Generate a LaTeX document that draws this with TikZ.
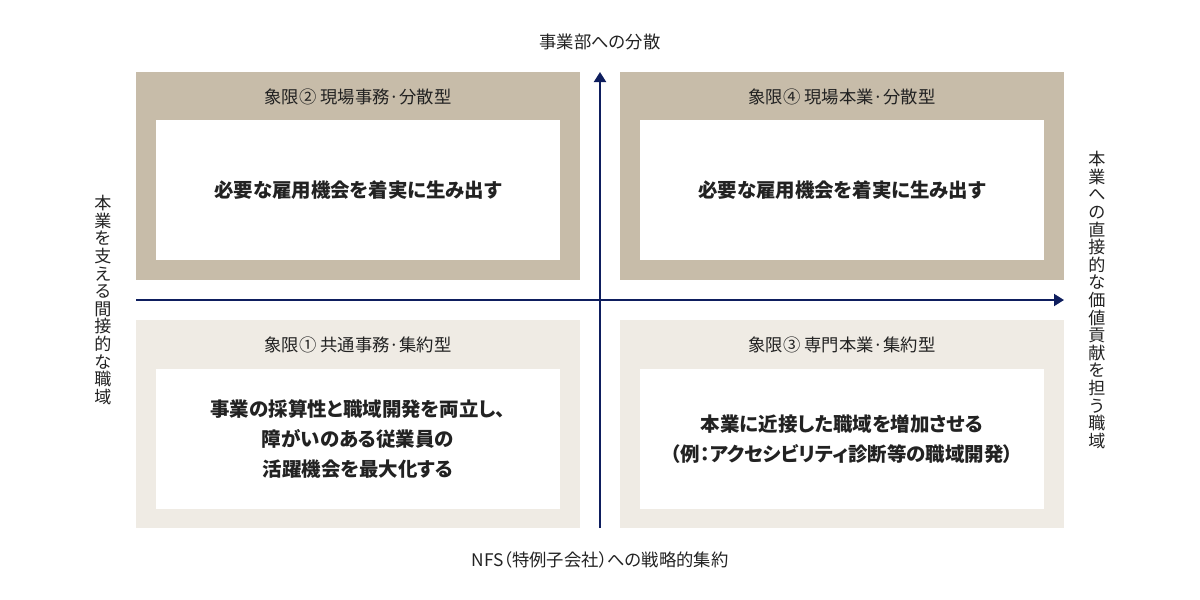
\documentclass[tikz,border=0pt]{standalone}
\usepackage{fontspec}
\setmainfont{Noto Sans CJK JP}
\newfontfamily\cjk[RawFeature=+palt]{Noto Sans CJK JP}
\newfontfamily\cjkv{Noto Sans CJK JP}
\usetikzlibrary{arrows.meta}
\definecolor{tandark}{HTML}{C7BCA9}
\definecolor{tanlight}{HTML}{EFEBE4}
\definecolor{axisblue}{HTML}{0E1E5E}
\definecolor{txt}{HTML}{222222}
\tikzset{
  outerbox/.style={minimum width=333pt, minimum height=156pt, inner sep=0pt, outer sep=0pt},
  innerbox/.style={fill=white, minimum width=303pt, minimum height=105pt, inner sep=0pt, outer sep=0pt,
    align=center, text=txt, font={\cjk\bfseries\fontsize{14.6}{22.5}\selectfont}},
  titletext/.style={text=txt, font={\cjk\fontsize{13}{15}\selectfont}, inner sep=0pt},
  axislabel/.style={text=txt, font={\cjk\fontsize{13}{15}\selectfont}, inner sep=0pt},
  vlabel/.style={text=txt, align=center, font={\cjkv\fontsize{12.8}{13.2}\selectfont}, inner sep=0pt},
  axis/.style={draw=axisblue, line width=1.5pt, -{Triangle[length=7.5pt,width=9pt]}}
}
\begin{document}
\begin{tikzpicture}[x=0.75pt,y=-0.75pt]
\useasboundingbox (0,0) rectangle (1200,600);
% quadrant boxes
\node[outerbox, fill=tandark] (q2) at (358,176) {};
\node[outerbox, fill=tandark] (q4) at (842,176) {};
\node[outerbox, fill=tanlight] (q1) at (358,424) {};
\node[outerbox, fill=tanlight] (q3) at (842,424) {};
% titles
\node[titletext] (t2) at (358,97) {象限② 現場事務·分散型};
\node[titletext] (t4) at (842,97) {象限④ 現場本業·分散型};
\node[titletext] (t1) at (358,345) {象限① 共通事務·集約型};
\node[titletext] (t3) at (842,345) {象限③ 専門本業·集約型};
% inner boxes
\node[innerbox] (i2) at (358,190) {必要な雇用機会を着実に生み出す};
\node[innerbox] (i4) at (842,190) {必要な雇用機会を着実に生み出す};
\node[innerbox] (i1) at (358,439) {事業の採算性と職域開発を両立し、\\障がいのある従業員の\\活躍機会を最大化する};
\node[innerbox] (i3) at (842,439) {本業に近接した職域を増加させる\\（例：アクセシビリティ診断等の職域開発）};
% axes
\coordinate (hs) at (136,300);
\coordinate (he) at (1064,300);
\coordinate (vs) at (600,528);
\coordinate (ve) at (600,72);
\draw[axis] (hs) -- (he);
\draw[axis] (vs) -- (ve);
% axis labels
\node[axislabel] (top) at (600,42) {事業部への分散};
\node[axislabel] (bottom) at (600,560) {NFS（特例子会社）への戦略的集約};
\node[vlabel] (left) at (103,300) {本\\業\\を\\支\\え\\る\\間\\接\\的\\な\\職\\域};
\node[vlabel] (right) at (1097,300) {本\\業\\へ\\の\\直\\接\\的\\な\\価\\値\\貢\\献\\を\\担\\う\\職\\域};
\end{tikzpicture}
\end{document}
